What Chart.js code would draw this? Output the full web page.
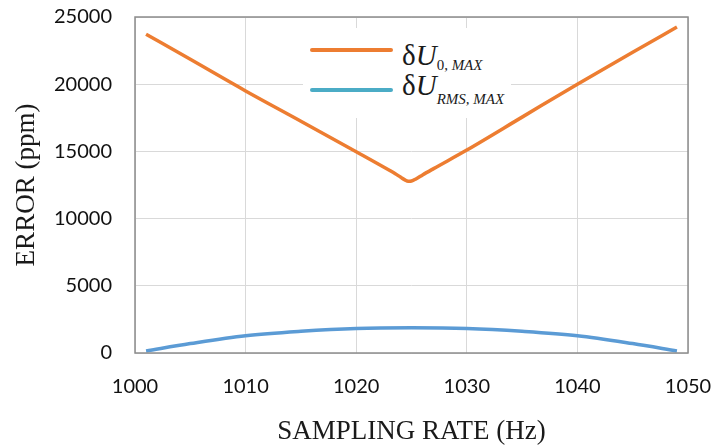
<!DOCTYPE html>
<html>
<head>
<meta charset="utf-8">
<script src="https://cdn.jsdelivr.net/npm/chart.js@4"></script>
<style>
  body { margin: 0; background: #fff; }
  #wrap { position: relative; width: 716px; height: 445px; }
  #legend {
    position: absolute; left: 303px; top: 28px; width: 208px; height: 90px;
    background: #fff; font-family: "Liberation Serif", "DejaVu Serif", serif; color: #1a1a1a;
  }
  .sw { position: absolute; left: 7px; width: 83px; height: 4px; border-radius: 2px; }
  .lbl { position: absolute; left: 99px; font-size: 29px; line-height: 1; white-space: nowrap; }
  .lbl sub { font-size: 15px; vertical-align: baseline; position: relative; top: 5px; }
</style>
</head>
<body>
<div id="wrap">
  <canvas id="chart" width="716" height="445"></canvas>
  <div id="legend">
    <div class="sw" style="top:20px;background:#ED7D31"></div>
    <div class="lbl" style="top:13px">δ<i>U</i><sub>0, <i>MAX</i></sub></div>
    <div class="sw" style="top:60px;background:#4BACC6"></div>
    <div class="lbl" style="top:43px">δ<i>U</i><sub style="top:9px"><i>RMS, MAX</i></sub></div>
  </div>
</div>
<script>
  // values
  const u0Hz = [1001, 1005, 1010, 1015, 1020, 1023, 1023.5, 1024, 1024.4, 1024.7, 1025, 1025.4, 1026, 1027, 1030, 1035, 1040, 1045, 1049];
  const u0Max = [23720, 21850, 19500, 17250, 14980, 13600, 13360, 13090, 12880, 12780, 12800, 12950, 13250, 13720, 15100, 17550, 20000, 22380, 24250];

  const rmsHz = [1001, 1005, 1010, 1015, 1020, 1025, 1030, 1035, 1040, 1045, 1049];
  const rmsMax = [150, 700, 1290, 1620, 1830, 1880, 1830, 1620, 1290, 700, 150];

  const xTicks = [1000, 1010, 1020, 1030, 1040, 1050];
  const yTicks = [0, 5000, 10000, 15000, 20000, 25000];

  const toPoints = (xs, ys) => xs.map((x, i) => ({ x, y: ys[i] }));

  // plot frame (top + right edges too)
  const frame = {
    id: "frame",
    afterDraw(chart) {
      const { ctx, chartArea: a } = chart;
      ctx.save();
      ctx.strokeStyle = "#8c8c8c";
      ctx.lineWidth = 1.5;
      ctx.strokeRect(a.left, a.top, a.right - a.left, a.bottom - a.top);
      ctx.restore();
    },
  };

  const tickFont = { family: "Lato, 'Open Sans', sans-serif", size: 20 };
  const titleFont = { family: "'Liberation Serif', serif", size: 27 };

  new Chart(document.getElementById("chart"), {
    type: "line",
    data: {
      datasets: [
        {
          label: "dU0,MAX",
          data: toPoints(u0Hz, u0Max),
          borderColor: "#ED7D31",
          borderWidth: 3.5,
          pointRadius: 0,
          cubicInterpolationMode: "monotone",
        },
        {
          label: "dURMS,MAX",
          data: toPoints(rmsHz, rmsMax),
          borderColor: "#5B9BD5",
          borderWidth: 3.5,
          pointRadius: 0,
          cubicInterpolationMode: "monotone",
        },
      ],
    },
    options: {
      responsive: false,
      animation: false,
      layout: { padding: { top: 17, right: 28, left: 0, bottom: 0 } },
      plugins: { legend: { display: false }, tooltip: { enabled: false } },
      scales: {
        x: {
          type: "linear",
          min: 1000,
          max: 1050,
          afterBuildTicks: (s) => { s.ticks = xTicks.map((v) => ({ value: v })); },
          afterFit: (s) => { s.height = 92; s.paddingLeft = 0; s.paddingRight = 0; },
          ticks: { font: tickFont, color: "#111", padding: 22, maxRotation: 0, callback: (v) => String(v) },
          grid: { color: "#d9d9d9", drawTicks: false },
          border: { display: false },
          title: { display: true, text: "SAMPLING RATE (Hz)", font: titleFont, color: "#1a1a1a", padding: { bottom: -3 } },
        },
        y: {
          min: 0,
          max: 25000,
          afterBuildTicks: (s) => { s.ticks = yTicks.map((v) => ({ value: v })); },
          afterFit: (s) => { s.width = 135; s.paddingTop = 0; s.paddingBottom = 0; },
          ticks: { font: tickFont, color: "#111", padding: 23, callback: (v) => String(v) },
          grid: { color: "#d9d9d9", drawTicks: false },
          border: { display: false },
          title: { display: true, text: "ERROR (ppm)", font: titleFont, color: "#1a1a1a", padding: { top: 11 } },
        },
      },
    },
    plugins: [frame],
  });
</script>
</body>
</html>
